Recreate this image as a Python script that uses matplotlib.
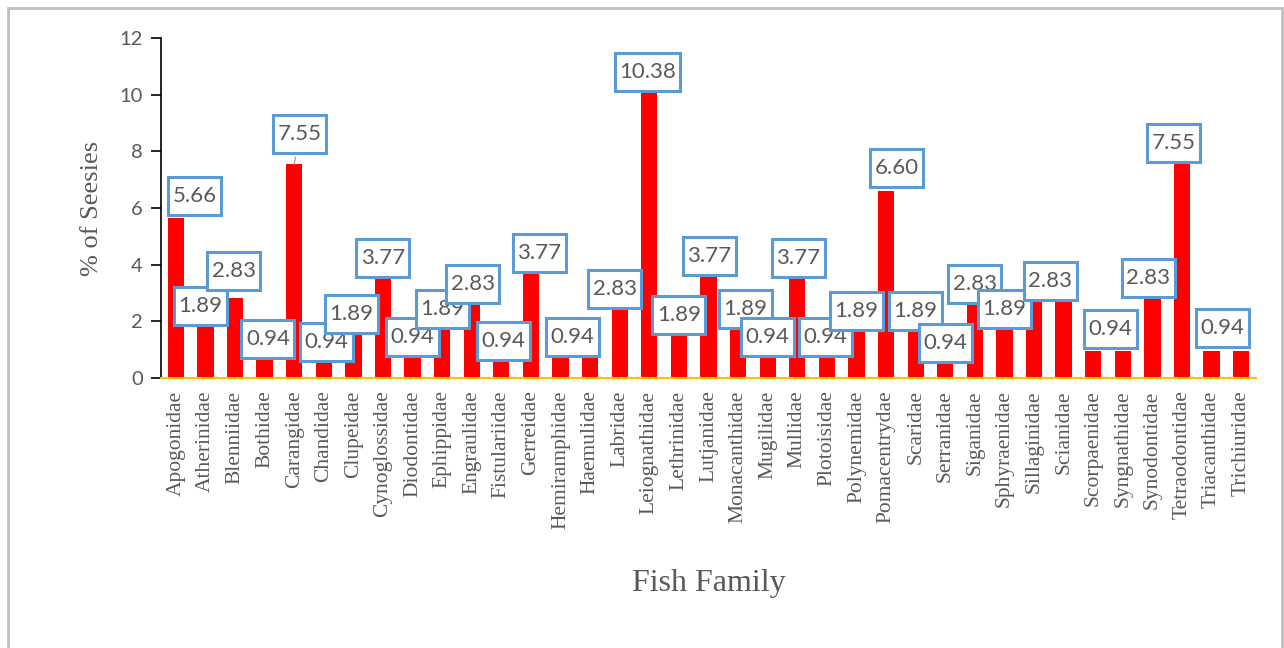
import numpy as np
import matplotlib
matplotlib.use('Agg')
import matplotlib.pyplot as plt
from matplotlib.patches import Rectangle
from matplotlib.path import Path

# Share of species per fish family (%)
families = ['Apogonidae', 'Atherinidae', 'Blenniidae', 'Bothidae', 'Carangidae',
            'Chandidae', 'Clupeidae', 'Cynoglossidae', 'Diodontidae', 'Ephippidae',
            'Engraulidae', 'Fistulariidae', 'Gerreidae', 'Hemiramphidae', 'Haemulidae',
            'Labridae', 'Leiognathidae', 'Lethrinidae', 'Lutjanidae', 'Monacanthidae',
            'Mugilidae', 'Mullidae', 'Plotoisidae', 'Polynemidae', 'Pomacentrydae',
            'Scaridae', 'Serranidae', 'Siganidae', 'Sphyraenidae', 'Sillaginidae',
            'Scianidae', 'Scorpaenidae', 'Syngnathidae', 'Synodontidae', 'Tetraodontidae',
            'Triacanthidae', 'Trichiuridae']
percent = [5.66, 1.89, 2.83, 0.94, 7.55, 0.94, 1.89, 3.77, 0.94, 1.89,
           2.83, 0.94, 3.77, 0.94, 0.94, 2.83, 10.38, 1.89, 3.77, 1.89,
           0.94, 3.77, 0.94, 1.89, 6.60, 1.89, 0.94, 2.83, 1.89, 2.83,
           2.83, 0.94, 0.94, 2.83, 7.55, 0.94, 0.94]
# which bars carry a value callout
labelled = [True] * 14 + [False] + [True] * 15 + [False, True, False, True, True, True, False]

# callout offsets from bar top (category units, % units)
lab_dx = [0.64, -0.16, -0.04, 0.11, 0.19, 0.10, -0.06, 0.0, 0.0, 0.0,
          0.03, 0.08, 0.29, 0.41, 0.0, -0.17, -0.06, 0.0, 0.03, 0.25,
          0.0, 0.04, -0.05, 0.0, 0.35, 0.0, 0.0, 0.0, 0.0, 0.55,
          0.0, 0.58, 0.0, -0.14, -0.29, 0.36, 0.0]
lab_dy = [0.76, 0.65, 0.95, 0.44, 1.06, 0.33, 0.37, 0.47, 0.51, 0.55,
          0.49, 0.37, 0.64, 0.51, 0.0, 0.31, 0.42, 0.33, 0.54, 0.55,
          0.51, 0.47, 0.51, 0.47, 0.81, 0.47, 0.30, 0.49, 0.55, 0.59,
          0.0, 0.79, 0.0, 0.70, 0.75, 0.82, 0.0]

grey = '#595959'
W, H = 1284, 648


def callout_box(x0, y0, width, height, mutation_size):
    # rectangle with tighter padding left/right than top/bottom
    px = 0.2 * mutation_size
    py = 0.41 * mutation_size
    x1, y1 = x0 - px, y0 - py
    x2, y2 = x0 + width + px, y0 + height + py
    return Path([(x1, y1), (x2, y1), (x2, y2), (x1, y2), (x1, y1)], closed=True)


fig = plt.figure(figsize=(W / 100, H / 100), dpi=100)

# chart area frame
fig.patches.append(Rectangle((8 / W, -0.05), 1274 / W, 1.05 - 8 / H, transform=fig.transFigure,
                             fill=False, edgecolor='#BFBFBF', linewidth=2))

ax = fig.add_axes([161 / W, 270 / H, 1095 / W, 340 / H])
x = np.arange(len(families))
ax.bar(x, percent, width=0.55, color='#FF0000', zorder=2)
ax.set_xlim(-0.5, len(families) - 0.5)
ax.set_ylim(0, 12)
ax.set_yticks(np.arange(0, 13, 2))
ax.set_xticks(x)
ax.set_xticklabels(families, rotation=90, family='Liberation Serif', fontsize=15.5, color=grey)
ax.tick_params(axis='x', length=0, pad=9)
ax.tick_params(axis='y', length=7, width=1.2, colors='black', labelcolor=grey, labelsize=14.5, pad=6)
for t in ax.get_yticklabels():
    t.set_family('Lato')

for s in ['top', 'right']:
    ax.spines[s].set_visible(False)
ax.spines['left'].set_color('black')
ax.spines['left'].set_linewidth(1.2)
ax.spines['bottom'].set_color('#FFC000')
ax.spines['bottom'].set_linewidth(1.5)

for i in range(len(families)):
    if not labelled[i]:
        continue
    arrow = None
    if i == 4:
        arrow = dict(arrowstyle='-', color='#A6A6A6', linewidth=1, shrinkB=0)
    ax.annotate('%.2f' % percent[i], xy=(i, percent[i]), xytext=(i + lab_dx[i], percent[i] + lab_dy[i]),
                textcoords='data', ha='center', va='center', fontsize=16, family='Lato', color=grey,
                bbox=dict(boxstyle=callout_box, facecolor='white', edgecolor='#5B9BD5', linewidth=2.2),
                arrowprops=arrow, zorder=5)

fig.text(92 / W, 1 - 208 / H, '% of Seesies', rotation=90, ha='center', va='center',
         family='Liberation Serif', fontsize=19, color=grey)
fig.text(709 / W, 1 - 583 / H, 'Fish Family', ha='center', va='center',
         family='Liberation Serif', fontsize=23, color=grey)

fig.savefig('out.png', dpi=100)
